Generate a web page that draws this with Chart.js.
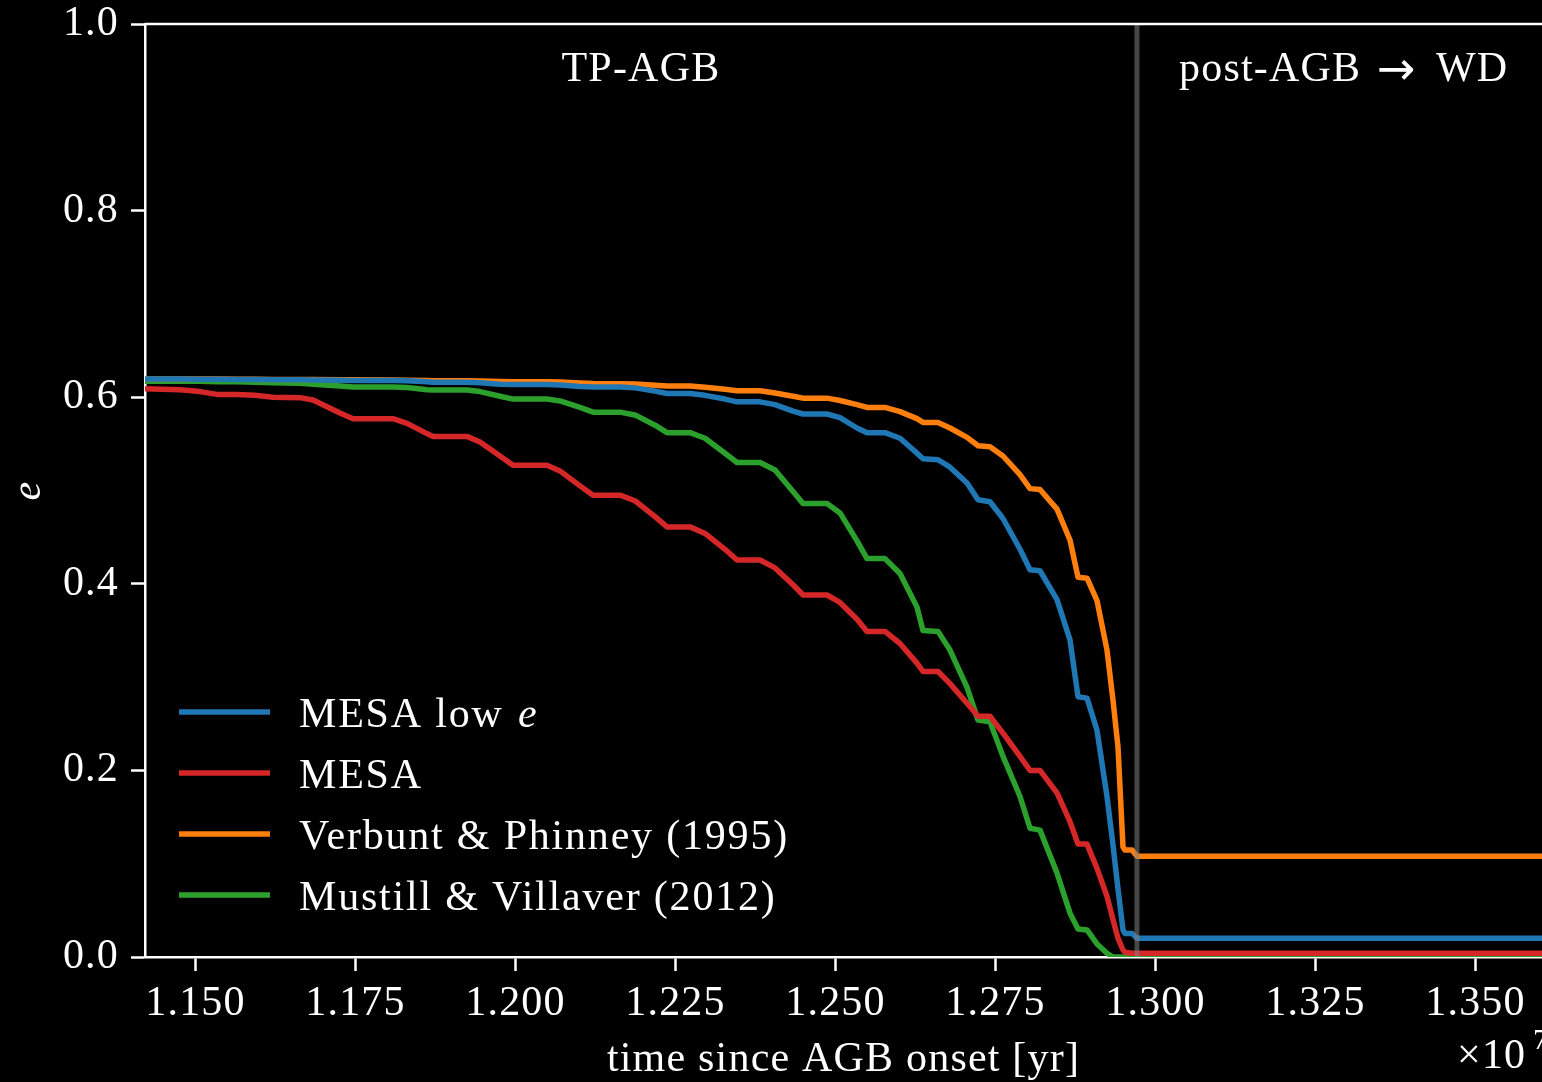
<!DOCTYPE html>
<html>
<head>
<meta charset="utf-8">
<script src="https://cdn.jsdelivr.net/npm/chart.js@4.4.1/dist/chart.umd.min.js"></script>
<style>
	html, body { margin: 0; padding: 0; background: #000; }
	canvas { display: block; }
</style>
</head>
<body>
<canvas id="chart-e" width="1542" height="1082"></canvas>
<script>
// time since AGB onset, in units of 1e7 yr
const times = [1.14211, 1.14758, 1.15070, 1.15336, 1.15648, 1.15930, 1.16211, 1.16633, 1.16836, 1.17258,
	1.17461, 1.18086, 1.18305, 1.18617, 1.18711, 1.19242, 1.19445, 1.19758, 1.19961, 1.20492,
	1.20695, 1.21008, 1.21211, 1.21633, 1.21867, 1.22180, 1.22367, 1.22727, 1.22961, 1.23273,
	1.23461, 1.23820, 1.24055, 1.24336, 1.24492, 1.24867, 1.25070, 1.25336, 1.25492, 1.25773,
	1.26008, 1.26273, 1.26367, 1.26602, 1.26789, 1.27055, 1.27227, 1.27414, 1.27617, 1.27883,
	1.28039, 1.28195, 1.28461, 1.28664, 1.28789, 1.28930, 1.29086, 1.29242, 1.29336, 1.29414,
	1.29492, 1.29523, 1.29633, 1.29711, 1.36039];

// eccentricity for each model
const eMesaLow = [0.6195, 0.6195, 0.6193, 0.6192, 0.619, 0.619, 0.6188, 0.6186, 0.6185, 0.6182,
	0.618, 0.618, 0.6177, 0.6165, 0.616, 0.616, 0.6155, 0.614, 0.6135, 0.6135,
	0.613, 0.6115, 0.611, 0.611, 0.610, 0.6065, 0.604, 0.604, 0.602, 0.598,
	0.595, 0.595, 0.592, 0.585, 0.582, 0.582, 0.578, 0.567, 0.562, 0.562,
	0.556, 0.540, 0.534, 0.533, 0.525, 0.508, 0.490, 0.488, 0.470, 0.437,
	0.415, 0.414, 0.383, 0.340, 0.279, 0.2775, 0.243, 0.172, 0.120, 0.073,
	0.029, 0.0253, 0.0253, 0.020, 0.020];
const eMesa = [0.609, 0.608, 0.606, 0.603, 0.603, 0.602, 0.600, 0.5995, 0.597, 0.583,
	0.577, 0.577, 0.572, 0.561, 0.558, 0.558, 0.552, 0.537, 0.527, 0.527,
	0.521, 0.505, 0.495, 0.495, 0.489, 0.472, 0.461, 0.461, 0.454, 0.437,
	0.4255, 0.4255, 0.417, 0.399, 0.388, 0.388, 0.380, 0.362, 0.349, 0.349,
	0.336, 0.315, 0.306, 0.306, 0.293, 0.272, 0.258, 0.258, 0.240, 0.215,
	0.200, 0.200, 0.176, 0.145, 0.121, 0.121, 0.095, 0.065, 0.040, 0.020,
	0.0075, 0.005, 0.004, 0.004, 0.004];
const eVerbunt = [0.6195, 0.6195, 0.6195, 0.6194, 0.6193, 0.6192, 0.6191, 0.619, 0.619, 0.6188,
	0.6186, 0.6185, 0.6183, 0.6178, 0.6176, 0.6175, 0.6173, 0.6168, 0.6165, 0.6165,
	0.6162, 0.6152, 0.6147, 0.6145, 0.6142, 0.6128, 0.612, 0.612, 0.6107, 0.6085,
	0.607, 0.607, 0.6045, 0.601, 0.599, 0.599, 0.5965, 0.592, 0.589, 0.589,
	0.5845, 0.577, 0.573, 0.573, 0.567, 0.557, 0.548, 0.547, 0.537, 0.517,
	0.502, 0.501, 0.480, 0.447, 0.407, 0.406, 0.382, 0.329, 0.275, 0.225,
	0.118, 0.1146, 0.1146, 0.108, 0.108];
const eMustill = [0.617, 0.617, 0.617, 0.6165, 0.6165, 0.616, 0.6155, 0.615, 0.614, 0.612,
	0.611, 0.611, 0.6105, 0.608, 0.6077, 0.6077, 0.606, 0.601, 0.598, 0.598,
	0.596, 0.589, 0.584, 0.584, 0.581, 0.570, 0.562, 0.562, 0.556, 0.540,
	0.530, 0.530, 0.522, 0.499, 0.486, 0.486, 0.476, 0.446, 0.427, 0.427,
	0.411, 0.375, 0.350, 0.349, 0.329, 0.289, 0.254, 0.252, 0.215, 0.172,
	0.138, 0.136, 0.090, 0.047, 0.030, 0.029, 0.014, 0.004, 0.0, 0.0,
	0.0, 0.0, 0.0, 0.0, 0.0];

const seriesLabels = ['MESA low e', 'MESA', 'Verbunt & Phinney (1995)', 'Mustill & Villaver (2012)'];
const seriesColors = ['#1f77b4', '#d62728', '#ff7f0e', '#2ca02c'];
const xTicks = [1.150, 1.175, 1.200, 1.225, 1.250, 1.275, 1.300, 1.325, 1.350];
const yTicks = [0.0, 0.2, 0.4, 0.6, 0.8, 1.0];
const xRange = [1.14211, 1.36039];
const postAgbStart = 1.2971; // end of TP-AGB phase

const FONT = "'Liberation Serif', 'DejaVu Serif', serif";
const series = [eMesaLow, eMesa, eVerbunt, eMustill];

const datasets = [{
	label: '',
	data: [{x: postAgbStart, y: 0}, {x: postAgbStart, y: 1}],
	borderColor: 'rgba(128,128,128,0.55)',
	borderWidth: 5,
	guide: true,
}];
series.forEach((vals, k) => {
	datasets.push({
		label: seriesLabels[k],
		data: times.map((t, i) => ({x: t, y: vals[i]})),
		borderColor: seriesColors[k],
		borderWidth: 5.5,
	});
});

// legend, phase labels, top spine and offset text
const decorations = {
	id: 'decorations',
	beforeDraw(chart) {
		chart.ctx.letterSpacing = '1.2px';
	},
	afterDraw(chart) {
		const {ctx, chartArea, scales: {x}} = chart;
		ctx.save();
		ctx.strokeStyle = '#fff';
		ctx.lineWidth = 2.5;
		ctx.beginPath();
		ctx.moveTo(chartArea.left, chartArea.top);
		ctx.lineTo(chartArea.right, chartArea.top);
		ctx.stroke();

		// phase labels
		const base = chartArea.top + 57;
		ctx.fillStyle = '#fff';
		ctx.font = '42px ' + FONT;
		ctx.textBaseline = 'alphabetic';
		ctx.textAlign = 'center';
		ctx.fillText('TP-AGB', x.getPixelForValue(1.2196), base);
		ctx.textAlign = 'left';
		const px = x.getPixelForValue(1.30367);
		ctx.fillText('post-AGB', px, base);
		ctx.font = '46px "DejaVu Sans"';
		ctx.fillText('\u2192', px + 198, base + 3);
		ctx.font = '42px ' + FONT;
		ctx.fillText('WD', px + 257, base);

		// legend
		ctx.letterSpacing = '1.8px';
		chart.data.datasets.filter(d => !d.guide).forEach((d, i) => {
			const rowY = 712 + i * 61;
			ctx.strokeStyle = d.borderColor;
			ctx.lineWidth = 5.5;
			ctx.beginPath();
			ctx.moveTo(179, rowY);
			ctx.lineTo(270, rowY);
			ctx.stroke();
			ctx.font = '42px ' + FONT;
			if (d.label.endsWith(' e')) {
				const head = d.label.slice(0, -1);
				ctx.fillText(head, 299, rowY + 15);
				const w = ctx.measureText(head).width;
				ctx.font = 'italic 42px ' + FONT;
				ctx.fillText('e', 299 + w + 2, rowY + 15);
			} else {
				ctx.fillText(d.label, 299, rowY + 15);
			}
		});

		// x offset text
		ctx.letterSpacing = '1.2px';
		ctx.font = '42px ' + FONT;
		ctx.fillText('\u00d710', 1457, 1068);
		ctx.font = '30px ' + FONT;
		ctx.fillText('7', 1533, 1049);
		ctx.restore();
	}
};

const config = {
	type: 'line',
	data: {datasets: datasets},
	plugins: [decorations],
	options: {
		responsive: false,
		animation: false,
		devicePixelRatio: 1,
		layout: {padding: {top: 24, right: 0, bottom: 0, left: 0}},
		elements: {
			point: {radius: 0},
			line: {tension: 0, borderCapStyle: 'butt', borderJoinStyle: 'round'},
		},
		datasets: {line: {clip: 0}},
		plugins: {
			legend: {display: false},
			tooltip: {enabled: false},
		},
		scales: {
			x: {
				type: 'linear',
				min: xRange[0],
				max: xRange[1],
				afterBuildTicks: s => { s.ticks = xTicks.map(v => ({value: v})); },
				afterFit: s => { s.height = 125; s.paddingLeft = 0; s.paddingRight = 0; },
				ticks: {
					color: '#fff',
					font: {family: FONT, size: 42, lineHeight: 1},
					padding: 12,
					maxRotation: 0,
					autoSkip: false,
					callback: v => v.toFixed(3),
				},
				grid: {drawOnChartArea: false, drawTicks: true, tickLength: 14, tickWidth: 2.5, tickColor: '#fff'},
				border: {color: '#fff', width: 2.5},
				title: {
					display: true,
					text: 'time since AGB onset [yr]',
					color: '#fff',
					font: {family: FONT, size: 42, lineHeight: 1.2},
					padding: {top: 0, bottom: -3},
				},
			},
			y: {
				type: 'linear',
				min: 0,
				max: 1,
				afterBuildTicks: s => { s.ticks = yTicks.map(v => ({value: v})); },
				afterFit: s => { s.width = 145; s.paddingTop = 0; s.paddingBottom = 0; },
				ticks: {
					color: '#fff',
					font: {family: FONT, size: 42, lineHeight: 1},
					padding: 12,
					callback: v => v.toFixed(1),
				},
				grid: {drawOnChartArea: false, drawTicks: true, tickLength: 14, tickWidth: 2.5, tickColor: '#fff'},
				border: {color: '#fff', width: 2.5},
				title: {
					display: true,
					text: 'e',
					color: '#fff',
					font: {family: FONT, size: 42, style: 'italic', lineHeight: 1.2},
					padding: {top: 4, bottom: 0},
				},
			},
		},
	},
};

document.addEventListener('DOMContentLoaded', () => {
	const ctx = document.getElementById('chart-e');
	const chartE = new Chart(ctx, config);
});
</script>
</body>
</html>
